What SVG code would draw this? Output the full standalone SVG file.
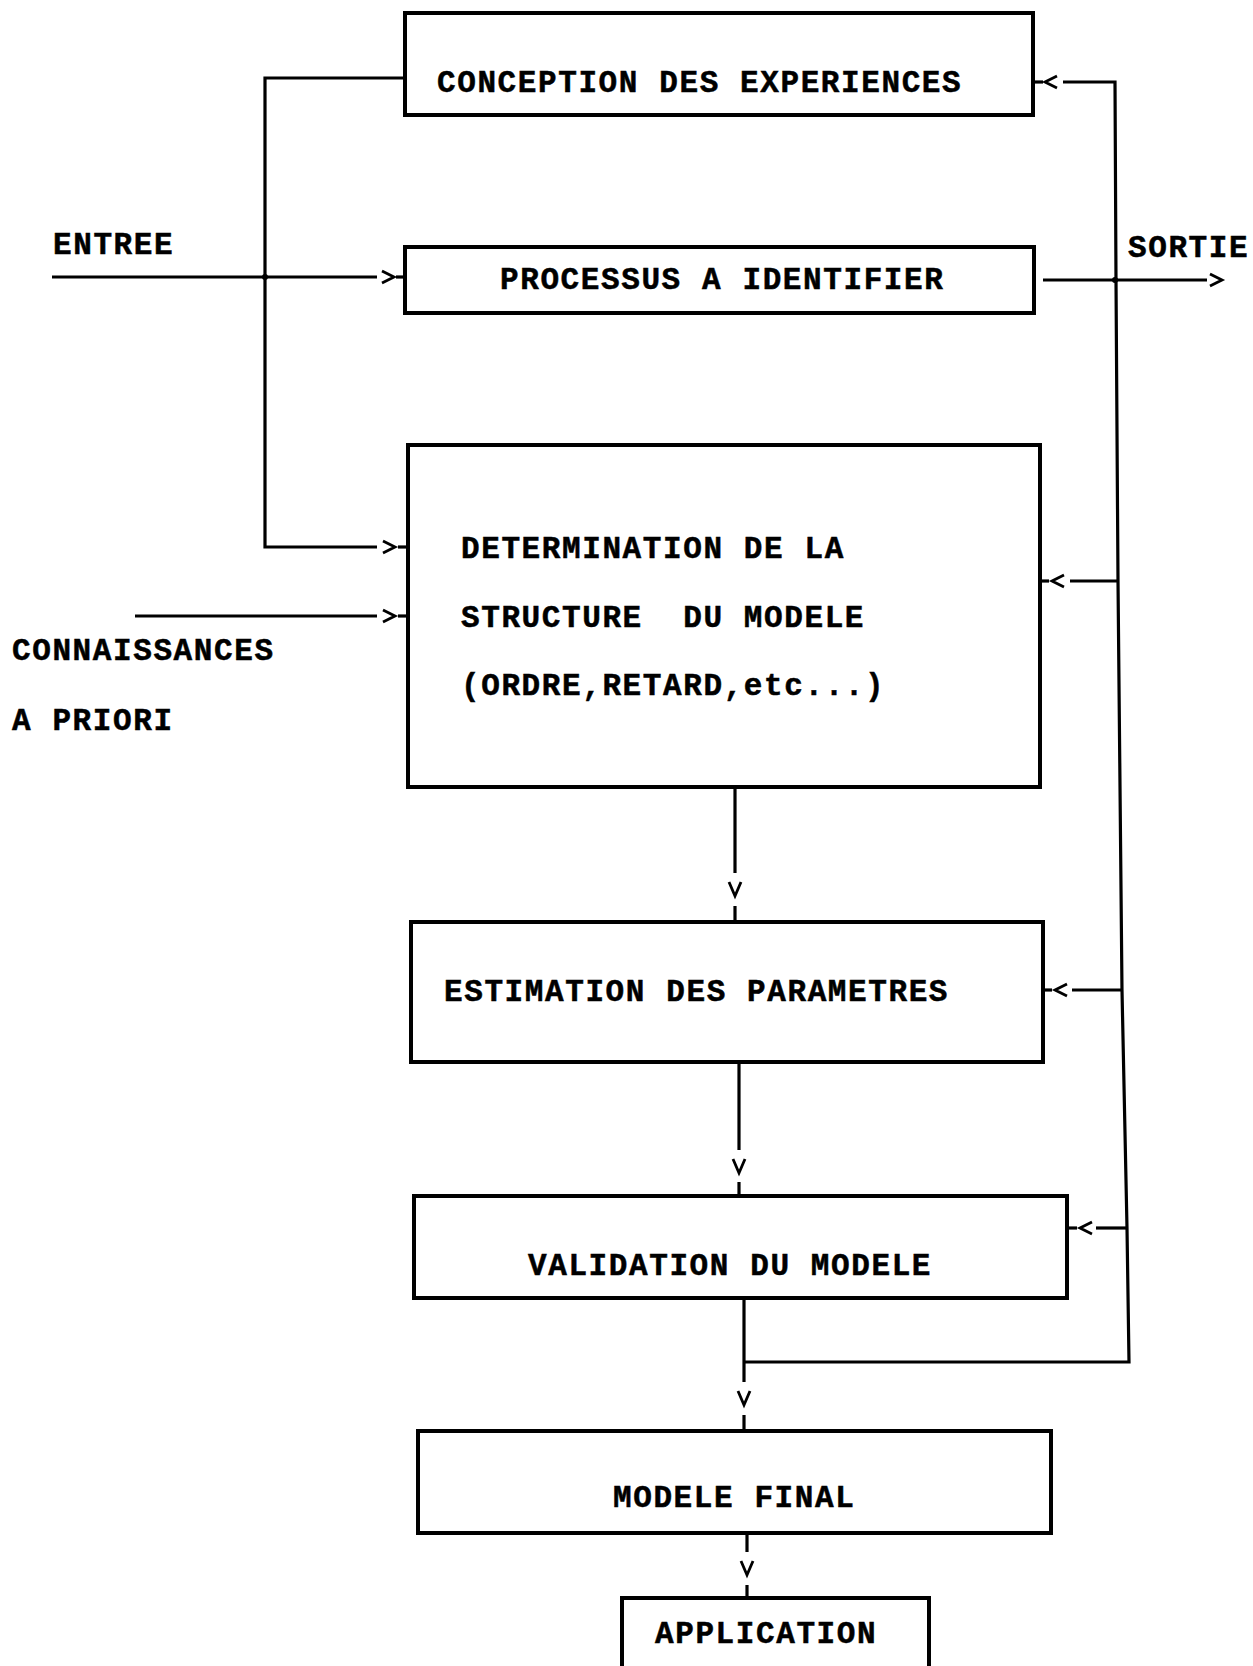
<svg xmlns="http://www.w3.org/2000/svg" xmlns:xlink="http://www.w3.org/1999/xlink" width="1253" height="1666" viewBox="0 0 1253 1666">
  <style>
    .box { fill: none; stroke: #000; stroke-width: 4; }
    .wire { fill: none; stroke: #000; stroke-width: 3.2; stroke-linejoin: miter; }
    .head { fill: none; stroke: #000; stroke-width: 2.8; stroke-linejoin: miter; }
    .dot { fill: #000; }
    text { font-family: "Liberation Mono", "DejaVu Sans Mono", monospace; font-weight: bold; font-size: 31px; letter-spacing: 1.6px; fill: #000; stroke: #000; stroke-width: 0.5; }
  </style>
  <defs>
    <!-- open chevrons used as arrowheads: right, left, down -->
    <path id="chev-r" class="head" d="M-6,-6 L6,0 L-6,6"/>
    <path id="chev-l" class="head" d="M6,-6 L-6,0 L6,6"/>
    <path id="chev-d" class="head" d="M-6,-7 L0,7 L6,-7"/>
  </defs>
  <rect width="1253" height="1666" fill="#fff"/>

  <!-- process blocks -->
  <g id="conception">
    <rect class="box" x="405" y="13" width="628" height="102"/>
    <text x="437" y="92">CONCEPTION DES EXPERIENCES</text>
  </g>
  <g id="processus">
    <rect class="box" x="405" y="247" width="629" height="66"/>
    <text x="500" y="289">PROCESSUS A IDENTIFIER</text>
  </g>
  <g id="determination">
    <rect class="box" x="408" y="445" width="632" height="342"/>
    <text x="461" y="558">DETERMINATION DE LA</text>
    <text x="461" y="627" xml:space="preserve">STRUCTURE  DU MODELE</text>
    <text x="461" y="695">(ORDRE,RETARD,etc...)</text>
  </g>
  <g id="estimation">
    <rect class="box" x="411" y="922" width="632" height="140"/>
    <text x="444" y="1001">ESTIMATION DES PARAMETRES</text>
  </g>
  <g id="validation">
    <rect class="box" x="414" y="1196" width="653" height="102"/>
    <text x="528" y="1275">VALIDATION DU MODELE</text>
  </g>
  <g id="modele-final">
    <rect class="box" x="418" y="1431" width="633" height="102"/>
    <text x="613" y="1507">MODELE FINAL</text>
  </g>
  <g id="application">
    <rect class="box" x="622" y="1598" width="307" height="74"/>
    <text x="655" y="1643">APPLICATION</text>
  </g>

  <!-- free labels -->
  <g id="labels">
    <text x="53" y="254">ENTREE</text>
    <text x="1128" y="257">SORTIE</text>
    <text x="12" y="660">CONNAISSANCES</text>
    <text x="12" y="730">A PRIORI</text>
  </g>

  <!-- connectors -->
  <g id="connectors">
    <!-- input side: experiment design feeds process and structure blocks -->
    <polyline class="wire" points="405,78 265,78 265,547 377,547"/>
    <line class="wire" x1="398" y1="547" x2="408" y2="547"/>
    <use xlink:href="#chev-r" x="389" y="547"/>

    <line class="wire" x1="52" y1="277" x2="377" y2="277"/>
    <line class="wire" x1="396" y1="277" x2="405" y2="277"/>
    <use xlink:href="#chev-r" x="388" y="277"/>
    <circle class="dot" cx="265" cy="277" r="3"/>

    <line class="wire" x1="135" y1="616" x2="377" y2="616"/>
    <line class="wire" x1="398" y1="616" x2="408" y2="616"/>
    <use xlink:href="#chev-r" x="389" y="616"/>

    <!-- output side -->
    <line class="wire" x1="1043" y1="280" x2="1207" y2="280"/>
    <use xlink:href="#chev-r" x="1216" y="280"/>
    <circle class="dot" cx="1115" cy="280" r="3"/>

    <!-- feedback bus on the right -->
    <polyline class="wire" points="744,1362 1129,1362 1127,1228 1122,990 1118,581 1116,280 1115,82 1063,82"/>
    <line class="wire" x1="1033" y1="82" x2="1043" y2="82"/>
    <use xlink:href="#chev-l" x="1051" y="82"/>

    <line class="wire" x1="1070" y1="581" x2="1118" y2="581"/>
    <line class="wire" x1="1040" y1="581" x2="1049" y2="581"/>
    <use xlink:href="#chev-l" x="1058" y="581"/>

    <line class="wire" x1="1072" y1="990" x2="1122" y2="990"/>
    <line class="wire" x1="1043" y1="990" x2="1052" y2="990"/>
    <use xlink:href="#chev-l" x="1061" y="990"/>

    <line class="wire" x1="1096" y1="1228" x2="1127" y2="1228"/>
    <line class="wire" x1="1067" y1="1228" x2="1077" y2="1228"/>
    <use xlink:href="#chev-l" x="1086" y="1228"/>

    <!-- main downward chain -->
    <line class="wire" x1="735" y1="787" x2="735" y2="873"/>
    <use xlink:href="#chev-d" x="735" y="889"/>
    <line class="wire" x1="735" y1="906" x2="735" y2="922"/>

    <line class="wire" x1="739" y1="1062" x2="739" y2="1150"/>
    <use xlink:href="#chev-d" x="739" y="1166"/>
    <line class="wire" x1="739" y1="1182" x2="739" y2="1196"/>

    <line class="wire" x1="744" y1="1298" x2="744" y2="1382"/>
    <use xlink:href="#chev-d" x="744" y="1398"/>
    <line class="wire" x1="744" y1="1415" x2="744" y2="1431"/>

    <line class="wire" x1="747" y1="1533" x2="747" y2="1552"/>
    <use xlink:href="#chev-d" x="747" y="1568"/>
    <line class="wire" x1="747" y1="1585" x2="747" y2="1598"/>
  </g>
</svg>
